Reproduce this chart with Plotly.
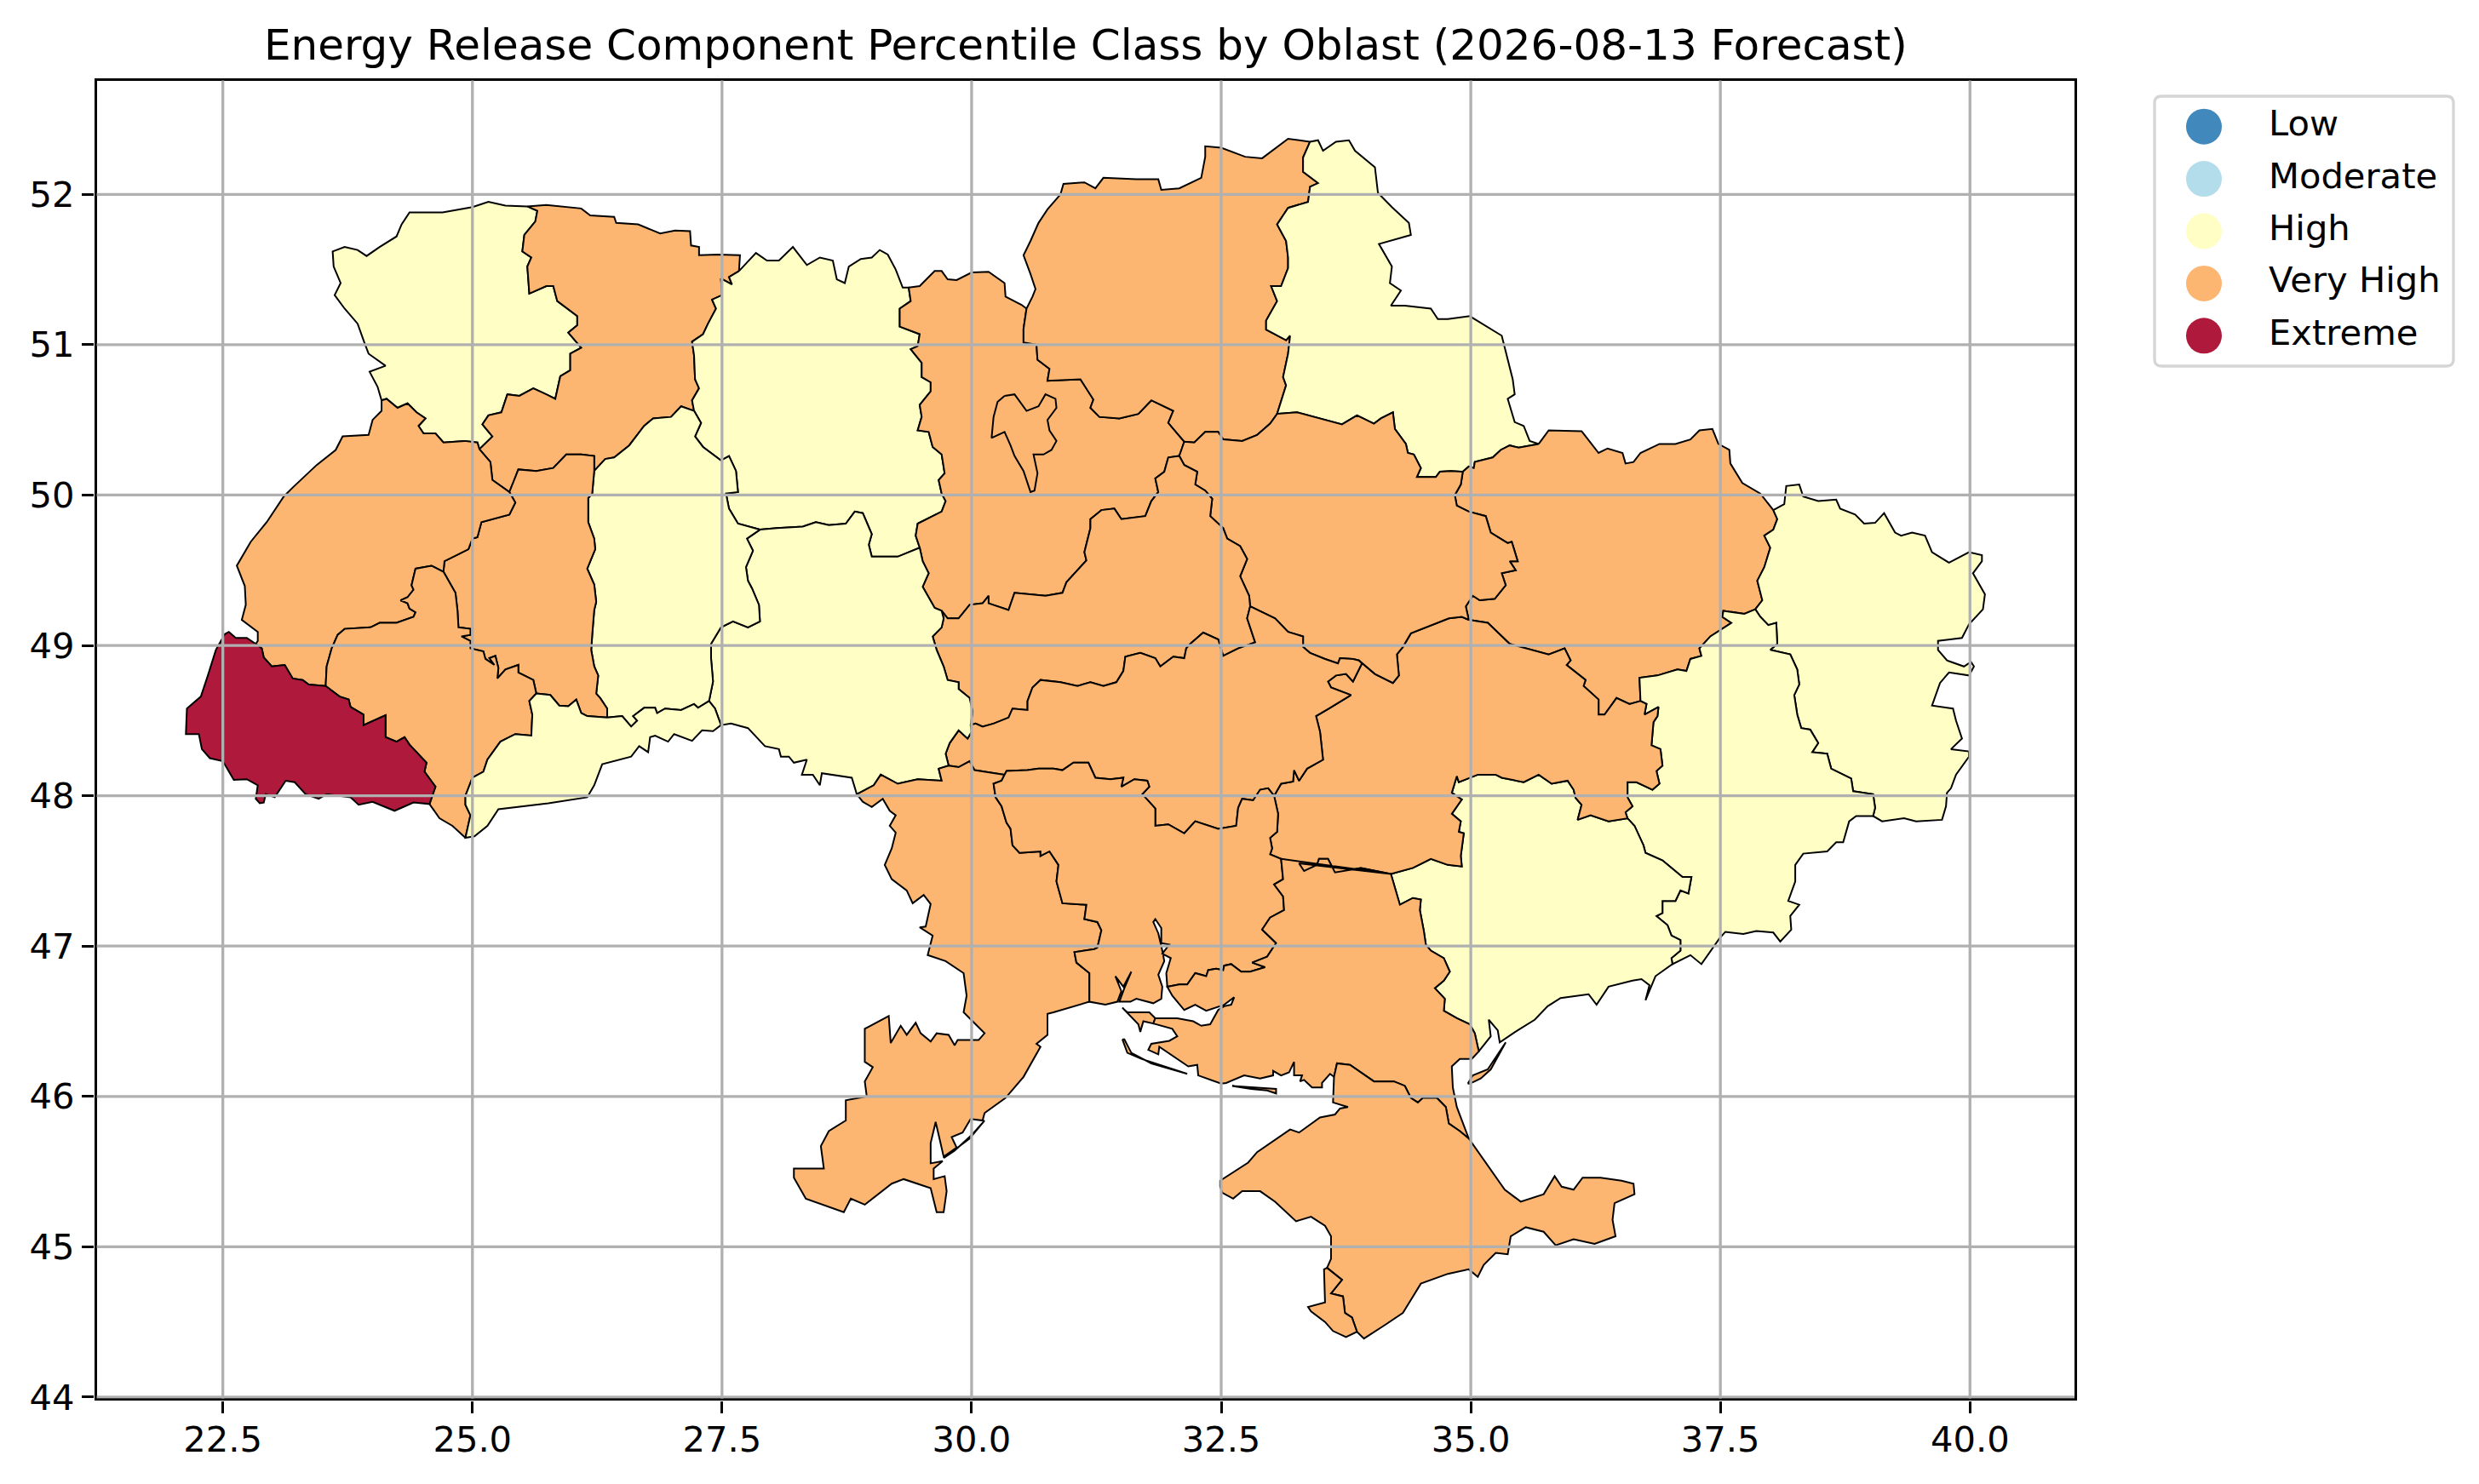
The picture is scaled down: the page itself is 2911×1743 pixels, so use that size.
import plotly.graph_objects as go

# ---------- chart text and classes ----------
TITLE = "Energy Release Component Percentile Class by Oblast (2026-08-13 Forecast)"
LEVELS = ["Low", "Moderate", "High", "Very High", "Extreme"]
LEVEL_COLORS = ["#4188bd", "#b3ddeb", "#ffffc5", "#fdb671", "#ae193c"]
XTICKS = [22.5, 25.0, 27.5, 30.0, 32.5, 35.0, 37.5, 40.0]
YTICKS = [44, 45, 46, 47, 48, 49, 50, 51, 52]

OBLASTS = ["Volyn", "Rivne", "Zhytomyr", "Kyiv", "Chernihiv", "Sumy", "Kharkiv", "Luhansk", "Donetsk",
           "Zaporizhzhia", "Dnipropetrovsk", "Poltava", "Cherkasy", "Kirovohrad", "Vinnytsia", "Khmelnytskyi",
           "Ternopil", "Lviv", "Ivano-Frankivsk", "Zakarpattia", "Chernivtsi", "Odesa", "Mykolaiv", "Kherson",
           "Crimea", "Sevastopol", "Kyiv City"]
OBLAST_CLASS = ["High", "Very High", "High", "Very High", "Very High", "High", "Very High", "High", "High",
                "High", "Very High", "Very High", "Very High", "Very High", "High", "High",
                "Very High", "Very High", "Very High", "Extreme", "High", "Very High", "Very High", "Very High",
                "Very High", "Very High", "Very High"]

# ---------- border junctions (lon, lat) ----------
A=(25.55,51.92); B=(24.09,50.63); C=(25.07,50.305); D=(27.67,51.49); E=(27.22,50.56); F=(26.22,50.16)
G=(25.37,50.02); H=(24.71,49.49); I=(29.37,51.38); J=(30.55,51.24); K=(33.39,52.35); L=(35.68,50.34)
M=(38.03,49.90); N=(37.85,49.24); O=(39.03,47.865); P=(36.70,48.63); Q=(34.98,49.17); R=(34.92,50.155)
S=(33.06,50.54); T=(32.13,50.355); U=(32.08,50.26); V=(32.79,49.26); X=(33.88,48.90); Y=(29.99,48.47)
Z=(29.70,49.23); AA=(29.48,49.65); BB=(27.88,49.77); DD=(29.77,48.20); EE=(30.33,48.14); FF=(28.85,48.01)
GG=(31.18,46.63); HH=(33.03,48.0); II=(36.57,47.85); KK=(22.83,49.01); LL=(23.53,48.73); MM=(25.64,48.68)
NN=(26.35,48.52); OO=(24.93,47.72); PP=(24.57,47.945); QQ=(27.49,48.47); RR=(27.37,48.63); J3=(34.20,47.48)
K3=(33.10,47.58); L3=(35.08,46.30); M3=(37.02,46.88); W=(31.96,46.73); CW=(33.63,46.13); CE=(34.98,45.72)
SA=(33.56,44.86); SB=(33.86,44.435)

# ---------- border arcs (lon, lat) ----------
volyn_outer=[A,(25.33,51.925),(25.16,51.95),(25.0,51.915),(24.70,51.88),(24.37,51.88),(24.29,51.80),(24.24,51.72),(24.07,51.65),(23.94,51.59),(23.85,51.63),(23.72,51.65),(23.60,51.62),(23.61,51.52),(23.68,51.41),(23.62,51.33),(23.72,51.24),(23.85,51.14),(23.92,51.01),(23.96,50.94),(24.13,50.86),(23.97,50.82),(24.05,50.72),B]
volyn_lviv=[B,(24.14,50.64),(24.25,50.58),(24.35,50.61),(24.44,50.55),(24.53,50.51),(24.46,50.46),(24.51,50.41),(24.63,50.41),(24.71,50.35),(24.92,50.36),(25.05,50.35),C]
volyn_rivne=[C,(25.20,50.39),(25.10,50.47),(25.16,50.53),(25.29,50.55),(25.35,50.67),(25.47,50.66),(25.61,50.71),(25.74,50.67),(25.83,50.64),(25.88,50.79),(25.98,50.83),(25.98,50.94),(26.09,50.98),(25.96,51.08),(26.05,51.13),(26.05,51.19),(25.85,51.29),(25.81,51.39),(25.74,51.39),(25.57,51.34),(25.55,51.52),(25.59,51.58),(25.50,51.62),(25.52,51.73),(25.63,51.82),(25.65,51.89),A]
rivne_north=[A,(25.74,51.93),(26.09,51.906),(26.18,51.86),(26.42,51.85),(26.44,51.81),(26.66,51.80),(26.88,51.74),(27.03,51.76),(27.18,51.755),(27.19,51.66),(27.27,51.65),(27.27,51.595),(27.46,51.60),(27.68,51.595),D]
rivne_zhyt=[D,(27.57,51.45),(27.60,51.40),(27.49,51.44),(27.50,51.33),(27.40,51.30),(27.44,51.24),(27.36,51.14),(27.31,51.07),(27.20,51.02),(27.22,50.93),(27.23,50.77),(27.27,50.71),(27.20,50.63),E]
rivne_khm=[E,(27.09,50.59),(26.99,50.52),(26.81,50.51),(26.72,50.46),(26.57,50.33),(26.42,50.25),(26.33,50.24),F]
rivne_tern=[F,(26.22,50.26),(26.09,50.27),(25.94,50.27),(25.81,50.18),(25.64,50.16),(25.46,50.17),(25.42,50.10),G]
rivne_lviv=[G,(25.20,50.10),(25.18,50.22),C]
lviv_tern=[G,(25.43,49.95),(25.37,49.87),(25.09,49.82),(25.05,49.72),(25.0,49.71),(24.96,49.64),(24.72,49.56),H]
lviv_west=[B,(24.09,50.56),(24.0,50.50),(23.96,50.40),(23.70,50.39),(23.63,50.30),(23.44,50.20),(23.20,50.05),(23.11,49.99),(22.94,49.82),(22.78,49.69),(22.64,49.53),(22.72,49.395),(22.73,49.27),(22.69,49.17),(22.85,49.09),(22.85,49.03),KK]
lviv_zak=[KK,(22.89,48.98),(22.91,48.92),(22.99,48.86),(23.12,48.87),(23.20,48.78),(23.30,48.77),(23.36,48.74),LL]
lviv_if=[H,(24.59,49.53),(24.43,49.51),(24.39,49.40),(24.41,49.37),(24.35,49.32),(24.28,49.30),(24.35,49.28),(24.37,49.245),(24.43,49.22),(24.41,49.19),(24.24,49.15),(24.07,49.15),(23.98,49.12),(23.72,49.11),(23.65,49.07),(23.59,48.98),(23.54,48.86),LL]
tern_if=[H,(24.83,49.35),(24.85,49.235),(24.86,49.12),(24.98,49.11),(24.98,49.07),(24.89,49.06),(24.98,49.03),(24.98,48.98),(25.11,48.96),(25.13,48.91),(25.22,48.87),(25.17,48.915),(25.23,48.93),(25.26,48.85),(25.25,48.78),(25.33,48.84),(25.46,48.87),(25.46,48.82),(25.61,48.77),MM]
tern_chern=[MM,(25.78,48.67),(25.87,48.60),(25.96,48.595),(26.04,48.64),(26.09,48.55),(26.15,48.53),NN]
tern_khm=[F,(26.20,50.01),(26.16,49.98),(26.16,49.82),(26.22,49.71),(26.23,49.64),(26.15,49.51),(26.22,49.405),(26.24,49.29),(26.22,49.235),(26.20,49.07),(26.19,48.97),(26.22,48.86),(26.26,48.80),(26.24,48.68),(26.28,48.65),(26.35,48.58),NN]
if_chern=[MM,(25.57,48.63),(25.60,48.54),(25.59,48.40),(25.43,48.41),(25.28,48.36),(25.15,48.24),(25.11,48.16),(25.0,48.12),(24.93,48.0),(24.93,47.94),(24.98,47.87),OO]
if_zak=[LL,(23.67,48.66),(23.76,48.64),(23.78,48.59),(23.91,48.54),(23.91,48.47),(24.13,48.535),(24.13,48.39),(24.24,48.36),(24.32,48.39),(24.37,48.34),(24.54,48.22),(24.52,48.16),(24.63,48.06),PP]
if_south=[PP,(24.67,47.85),(24.80,47.80),OO]
zak_outer=[PP,(24.41,47.955),(24.22,47.90),(24.0,47.96),(23.86,47.94),(23.78,47.99),(23.54,48.01),(23.46,47.98),(23.33,48.01),(23.22,48.09),(23.13,48.10),(23.02,47.99),(22.93,48.01),(22.91,47.955),(22.87,47.95),(22.83,47.98),(22.85,48.07),(22.74,48.11),(22.61,48.105),(22.5,48.23),(22.37,48.25),(22.29,48.31),(22.26,48.41),(22.13,48.41),(22.14,48.58),(22.28,48.66),(22.35,48.80),(22.43,48.97),(22.52,49.075),(22.56,49.09),(22.63,49.05),(22.74,49.05),KK]
chern_south=[OO,(25.02,47.73),(25.15,47.80),(25.26,47.91),(25.76,47.95),(26.15,47.99),(26.22,48.07),(26.30,48.21),(26.59,48.26),(26.67,48.33),(26.76,48.29),(26.78,48.39),(26.83,48.40),(26.96,48.36),(27.02,48.41),(27.20,48.365),(27.30,48.435),(27.41,48.43),QQ]
chern_khm=[NN,(26.50,48.53),(26.59,48.46),(26.65,48.50),(26.61,48.53),(26.72,48.585),(26.83,48.585),(26.85,48.55),(26.93,48.58),(27.09,48.57),(27.22,48.61),(27.26,48.585),RR]
chern_vin=[RR,(27.43,48.58),QQ]
khm_vin=[BB,(27.75,49.71),(27.81,49.63),(27.74,49.52),(27.76,49.43),(27.80,49.38),(27.87,49.27),(27.88,49.16),(27.76,49.12),(27.61,49.16),(27.49,49.12),(27.39,49.01),(27.39,48.915),(27.41,48.76),RR]
khm_zhyt=[E,(27.29,50.48),(27.23,50.39),(27.31,50.32),(27.49,50.23),(27.57,50.26),(27.64,50.16),(27.66,50.02),(27.54,50.01),(27.57,49.91),(27.66,49.81),BB]
vin_south=[QQ,(27.59,48.48),(27.76,48.45),(27.93,48.33),(28.07,48.31),(28.09,48.26),(28.17,48.26),(28.22,48.22),(28.35,48.24),(28.30,48.14),(28.41,48.14),(28.48,48.07),(28.50,48.15),(28.80,48.12),FF]
zhyt_north=[D,(27.84,51.61),(27.95,51.56),(28.07,51.56),(28.21,51.65),(28.29,51.58),(28.35,51.53),(28.48,51.58),(28.61,51.56),(28.65,51.435),(28.73,51.41),(28.77,51.52),(28.89,51.57),(29.0,51.58),(29.08,51.63),(29.16,51.60),(29.24,51.50),(29.31,51.38),I]
kyiv_north=[I,(29.48,51.39),(29.63,51.49),(29.70,51.49),(29.76,51.435),(29.85,51.43),(30.0,51.48),(30.17,51.485),(30.33,51.41),(30.34,51.32),(30.50,51.265),J]
chernihiv_north=[J,(30.61,51.32),(30.64,51.37),(30.59,51.47),(30.52,51.595),(30.59,51.69),(30.67,51.81),(30.76,51.90),(30.89,52.0),(30.92,52.07),(31.13,52.08),(31.24,52.04),(31.32,52.11),(31.65,52.10),(31.87,52.10),(31.90,52.03),(32.08,52.04),(32.30,52.11),(32.34,52.25),(32.34,52.32),(32.50,52.31),(32.74,52.25),(32.91,52.24),(33.17,52.37),K]
sumy_outer=[K,(33.47,52.36),(33.52,52.29),(33.65,52.35),(33.78,52.36),(33.84,52.29),(34.04,52.18),(34.07,52.01),(34.21,51.915),(34.38,51.81),(34.40,51.73),(34.08,51.67),(34.21,51.52),(34.19,51.41),(34.30,51.36),(34.20,51.26),(34.34,51.26),(34.60,51.24),(34.67,51.17),(34.77,51.17),(34.99,51.19),(35.31,51.06),(35.42,50.77),(35.44,50.67),(35.37,50.64),(35.44,50.485),(35.53,50.46),(35.59,50.36),L]
kharkiv_north=[L,(35.78,50.43),(36.11,50.425),(36.28,50.28),(36.37,50.31),(36.52,50.28),(36.55,50.21),(36.63,50.22),(36.70,50.28),(36.89,50.34),(37.05,50.34),(37.20,50.37),(37.29,50.43),(37.42,50.44),(37.48,50.34),(37.59,50.30),(37.60,50.21),(37.72,50.08),(37.90,50.01),M]
luhansk_outer=[M,(38.14,49.94),(38.16,50.06),(38.29,50.07),(38.33,49.99),(38.48,49.96),(38.66,49.97),(38.70,49.91),(38.85,49.87),(38.94,49.81),(39.05,49.815),(39.14,49.88),(39.25,49.75),(39.31,49.73),(39.42,49.75),(39.55,49.73),(39.62,49.62),(39.79,49.55),(39.99,49.62),(40.12,49.60),(40.12,49.56),(40.03,49.48),(40.15,49.34),(40.13,49.24),(39.99,49.14),(39.92,49.05),(39.68,49.03),(39.68,48.97),(39.77,48.90),(39.94,48.86),(40.01,48.89),(40.04,48.86),(39.99,48.80),(39.79,48.82),(39.70,48.75),(39.62,48.60),(39.83,48.58),(39.86,48.50),(39.92,48.38),(39.81,48.31),(39.99,48.295),(39.99,48.26),(39.86,48.14),(39.81,48.05),(39.77,48.02),(39.76,47.93),(39.72,47.84),(39.46,47.83),(39.34,47.85),(39.12,47.83),O]
kharkiv_luhansk=[M,(38.07,49.84),(38.03,49.77),(37.94,49.73),(38.0,49.65),(37.94,49.52),(37.87,49.43),(37.92,49.30),N]
luhansk_donetsk=[N,(37.90,49.19),(37.98,49.135),(38.06,49.15),(38.07,49.01),(38.0,48.97),(38.20,48.94),(38.27,48.84),(38.29,48.74),(38.24,48.67),(38.27,48.54),(38.31,48.45),(38.40,48.44),(38.48,48.35),(38.42,48.29),(38.57,48.28),(38.61,48.18),(38.81,48.115),(38.83,48.03),(39.03,48.01),(39.05,47.92),O]
kharkiv_donetsk=[N,(37.74,49.21),(37.53,49.23),(37.52,49.19),(37.61,49.15),(37.40,49.06),(37.33,49.01),(37.29,48.98),(37.31,48.93),(37.20,48.91),(37.16,48.83),(37.07,48.84),(36.87,48.80),(36.69,48.785),P]
sumy_chernihiv=[K,(33.32,52.245),(33.32,52.15),(33.47,52.075),(33.39,52.05),(33.37,51.95),(33.17,51.91),(33.06,51.80),(33.15,51.69),(33.17,51.58),(33.17,51.51),(33.10,51.39),(33.00,51.39),(33.06,51.29),(32.95,51.16),(32.95,51.10),(33.15,51.03),(33.19,51.06),(33.17,50.94),(33.12,50.785),(33.15,50.73),S]
sumy_poltava=[S,(33.26,50.55),(33.71,50.47),(33.86,50.53),(34.03,50.475),(34.10,50.51),(34.22,50.55),(34.24,50.44),(34.35,50.34),(34.37,50.28),(34.43,50.27),(34.50,50.18),(34.46,50.12),(34.65,50.12),(34.69,50.155),(34.80,50.16),R]
sumy_kharkiv=[R,(34.98,50.19),(35.03,50.18),(35.04,50.22),(35.22,50.25),(35.30,50.30),(35.39,50.33),(35.48,50.315),L]
poltava_kharkiv=[R,(34.90,50.07),(34.84,50.0),(34.86,49.93),(34.98,49.89),(35.15,49.86),(35.20,49.75),(35.37,49.68),(35.41,49.69),(35.47,49.56),(35.39,49.56),(35.45,49.50),(35.31,49.48),(35.35,49.40),(35.24,49.31),(35.09,49.30),(35.02,49.33),(34.95,49.26),Q]
chernihiv_poltava=[S,(32.99,50.475),(32.86,50.40),(32.71,50.36),(32.52,50.37),(32.47,50.42),(32.34,50.42),(32.23,50.35),T]
chernihiv_kyiv=[J,(30.52,51.105),(30.52,51.015),(30.65,51.0),(30.66,50.90),(30.78,50.84),(30.76,50.76),(31.09,50.77),(31.22,50.635),(31.19,50.58),(31.28,50.52),(31.48,50.51),(31.67,50.54),(31.80,50.63),(32.02,50.56),(31.97,50.48),(32.06,50.41),T]
kyiv_poltava=[T,U]
poltava_cherkasy=[U,(32.13,50.20),(32.26,50.155),(32.24,50.07),(32.34,50.03),(32.41,49.975),(32.39,49.86),(32.52,49.78),(32.56,49.71),(32.69,49.66),(32.76,49.575),(32.69,49.46),(32.78,49.33),V]
kyiv_cherkasy=[U,(31.97,50.25),(31.93,50.155),(31.84,50.11),(31.87,50.02),(31.80,49.96),(31.74,49.86),(31.60,49.85),(31.50,49.84),(31.43,49.91),(31.30,49.90),(31.19,49.84),(31.19,49.78),(31.13,49.62),(31.15,49.565),(30.95,49.42),(30.91,49.35),(30.74,49.33),(30.43,49.35),(30.37,49.235),(30.17,49.28),(30.17,49.33),(30.11,49.28),(29.98,49.27),(29.87,49.18),(29.76,49.18),Z]
kyiv_zhyt=[I,(29.39,51.29),(29.28,51.24),(29.28,51.12),(29.48,51.07),(29.46,50.99),(29.39,50.97),(29.50,50.88),(29.50,50.785),(29.59,50.75),(29.59,50.69),(29.48,50.60),(29.50,50.52),(29.46,50.43),(29.57,50.42),(29.61,50.32),(29.70,50.27),(29.73,50.145),(29.67,50.10),(29.70,50.01),(29.74,49.96),(29.70,49.89),(29.46,49.81),(29.44,49.73),AA]
zhyt_vin=[AA,(29.26,49.59),(29.0,49.59),(28.97,49.67),(29.0,49.74),(28.91,49.88),(28.83,49.89),(28.74,49.81),(28.57,49.80),(28.44,49.82),(28.31,49.79),(28.05,49.78),BB]
kyiv_vin=[AA,(29.51,49.56),(29.57,49.48),(29.51,49.39),(29.63,49.25),Z]
cherkasy_vin=[Z,(29.72,49.18),(29.70,49.12),(29.61,49.06),(29.65,48.97),(29.72,48.86),(29.76,48.77),(29.87,48.755),(29.87,48.71),(29.98,48.65),(30.01,48.56),Y]
cherkasy_kiro=[V,(32.76,49.18),(32.84,49.02),(32.67,48.98),(32.52,48.93),(32.47,49.04),(32.32,49.085),(32.19,49.01),(32.15,48.98),(32.13,48.915),(32.02,48.925),(31.89,48.86),(31.84,48.915),(31.69,48.95),(31.54,48.925),(31.52,48.83),(31.45,48.755),(31.32,48.73),(31.19,48.755),(31.06,48.73),(30.89,48.755),(30.69,48.77),(30.61,48.72),(30.56,48.63),(30.56,48.57),(30.41,48.58),(30.37,48.52),(30.22,48.48),(30.11,48.46),(30.04,48.48),Y]
poltava_kiro=[V,(33.04,49.18),(33.17,49.09),(33.32,49.06),(33.32,48.99),(33.39,48.95),(33.54,48.91),(33.67,48.88),(33.69,48.915),(33.82,48.91),X]
poltava_dnipro=[X,(34.04,48.81),(34.22,48.75),(34.28,48.80),(34.26,48.94),(34.32,48.99),(34.40,49.08),(34.61,49.135),(34.78,49.18),(34.91,49.19),Q]
kharkiv_dnipro=[Q,(35.17,49.15),(35.39,49.01),(35.78,48.94),(35.94,48.98),(36.0,48.90),(35.96,48.87),(36.15,48.77),(36.13,48.73),(36.28,48.64),(36.28,48.54),(36.34,48.54),(36.46,48.65),(36.59,48.61),P]
donetsk_dnipro=[P,(36.76,48.61),(36.74,48.54),(36.88,48.59),(36.87,48.53),(36.83,48.49),(36.81,48.335),(36.90,48.31),(36.92,48.20),(36.86,48.165),(36.89,48.08),(36.82,48.04),(36.66,48.09),(36.57,48.09),(36.57,47.99),(36.62,47.93),(36.55,47.89),II]
dnipro_zap=[II,(36.38,47.83),(36.20,47.87),(36.07,47.84),(36.11,47.94),(36.05,47.985),(36.03,48.04),(35.97,48.10),(35.81,48.08),(35.68,48.14),(35.53,48.09),(35.31,48.12),(35.25,48.14),(35.07,48.14),(34.88,48.09),(34.86,48.13),(34.81,48.02),(34.91,47.975),(34.81,47.88),(34.90,47.83),(34.88,47.76),(34.93,47.75),(34.90,47.60),(34.91,47.53),(34.77,47.54),(34.60,47.58),(34.42,47.52),J3]
dnipro_kherson=[J3,(33.90,47.52),(33.64,47.49),(33.57,47.58),(33.48,47.58),(33.46,47.54),(33.33,47.50),(33.28,47.55),K3]
dnipro_myk=[HH,(33.07,47.88),(33.06,47.76),(32.99,47.72),(33.01,47.65),(32.99,47.61),K3]
dnipro_kiro=[X,(33.91,48.88),(33.82,48.76),(33.75,48.81),(33.65,48.80),(33.57,48.76),(33.60,48.72),(33.80,48.67),(33.58,48.58),(33.45,48.53),(33.49,48.425),(33.52,48.24),(33.36,48.18),(33.28,48.10),(33.23,48.17),(33.22,48.095),(33.10,48.08),HH]
kiro_vin=[Y,(30.0,48.425),(29.96,48.38),(29.87,48.435),(29.78,48.35),(29.74,48.28),DD]
kiro_odesa=[DD,(29.87,48.19),(29.98,48.23),(30.03,48.17),EE]
kiro_myk=[EE,(30.35,48.165),(30.56,48.17),(30.67,48.18),(30.82,48.18),(30.91,48.17),(31.02,48.22),(31.17,48.22),(31.24,48.12),(31.39,48.11),(31.52,48.12),(31.50,48.06),(31.63,48.11),(31.76,48.10),(31.78,48.06),(31.71,48.01),(31.84,47.915),(31.84,47.80),(31.97,47.81),(32.13,47.75),(32.24,47.83),(32.47,47.78),(32.65,47.80),(32.67,47.92),(32.71,47.98),(32.82,47.97),(32.89,48.04),(32.97,48.05),HH]
vin_odesa=[DD,(29.67,48.18),(29.70,48.10),(29.46,48.11),(29.26,48.08),(29.09,48.14),(29.02,48.07),FF]
odesa_coast=[FF,(28.91,47.96),(29.0,47.925),(29.11,47.98),(29.18,47.90),(29.24,47.87),(29.18,47.80),(29.24,47.755),(29.20,47.65),(29.13,47.54),(29.20,47.445),(29.35,47.37),(29.41,47.285),(29.52,47.34),(29.59,47.28),(29.54,47.13),(29.48,47.125),(29.61,47.07),(29.56,46.94),(29.74,46.90),(29.92,46.82),(29.95,46.67),(29.92,46.56),(30.01,46.50),(30.13,46.42),(30.07,46.375),(29.86,46.375),(29.83,46.34),(29.77,46.41),(29.65,46.42),(29.59,46.365),(29.49,46.42),(29.44,46.49),(29.35,46.41),(29.29,46.47),(29.19,46.355),(29.17,46.535),(28.93,46.45),(28.93,46.23),(29.01,46.195),(28.93,46.10),(28.95,46.0),(28.74,45.975),(28.74,45.84),(28.57,45.77),(28.49,45.67),(28.52,45.52),(28.22,45.52),(28.22,45.46),(28.34,45.32),(28.72,45.23),(28.79,45.32),(28.93,45.28),(29.20,45.42),(29.32,45.45),(29.59,45.39),(29.65,45.23),(29.72,45.23),(29.75,45.37),(29.73,45.47),(29.62,45.45),(29.62,45.52),(29.71,45.57),(29.59,45.555),(29.59,45.69),(29.64,45.83),(29.67,45.74),(29.72,45.60),(29.85,45.66),(29.80,45.73),(29.91,45.76),(29.99,45.85),(30.11,45.84),(30.13,45.89),(30.34,45.99),(30.52,46.13),(30.69,46.33),(30.65,46.35),(30.76,46.41),(30.76,46.55),(30.82,46.56),GG]
odesa_myk=[GG,(31.18,46.82),(31.05,46.89),(31.03,46.96),(31.23,46.98),(31.26,46.99),(31.30,47.105),(31.26,47.16),(31.13,47.18),(31.15,47.275),(30.91,47.285),(30.85,47.43),(30.87,47.54),(30.78,47.63),(30.69,47.60),(30.69,47.63),(30.48,47.62),(30.41,47.67),(30.39,47.78),(30.35,47.82),(30.30,47.93),(30.24,47.99),(30.22,48.08),(30.30,48.10),EE]
myk_kherson=[K3,(33.12,47.445),(33.03,47.41),(33.12,47.33),(33.13,47.24),(32.99,47.19),(32.91,47.11),(33.05,47.02),(32.96,46.93),(32.81,46.89),(32.94,46.86),(32.79,46.83),(32.70,46.83),(32.60,46.88),(32.53,46.87),(32.52,46.84),(32.45,46.85),(32.37,46.84),(32.35,46.80),(32.24,46.82),(32.16,46.745),(32.08,46.745),W]
myk_coast=[W,(31.95,46.82),(31.995,46.92),(31.91,46.95),(31.98,47.01),(31.90,47.02),(31.90,47.12),(31.84,47.18),(31.82,47.16),(31.87,47.085),(31.91,46.97),(31.93,46.90),(31.87,46.81),(31.91,46.73),(31.90,46.65),(31.82,46.62),(31.65,46.65),(31.59,46.63),(31.48,46.63),(31.53,46.72),(31.60,46.83),(31.52,46.73),(31.44,46.80),(31.50,46.70),(31.46,46.63),(31.34,46.61),GG]
kherson_coast=[W,(32.01,46.67),(32.13,46.575),(32.24,46.61),(32.35,46.57),(32.45,46.59),(32.53,46.61),(32.63,46.66),(32.60,46.61),(32.53,46.60),(32.47,46.575),(32.39,46.48),(32.30,46.47),(32.22,46.50),(32.06,46.52),(31.84,46.52),(31.82,46.485),(32.01,46.45),(32.06,46.40),(31.98,46.37),(31.80,46.35),(31.77,46.31),(31.87,46.28),(31.88,46.33),(32.04,46.26),(32.17,46.20),(32.26,46.21),(32.27,46.14),(32.50,46.085),(32.55,46.09),(32.73,46.14),(32.89,46.12),(33.02,46.14),(33.02,46.17),(33.10,46.14),(33.18,46.16),(33.23,46.23),(33.23,46.14),(33.31,46.14),(33.29,46.10),(33.33,46.11),(33.41,46.06),(33.51,46.06),(33.51,46.09),(33.59,46.15),CW]
kherson_crimea=[CW,(33.66,46.22),(33.79,46.21),(34.03,46.10),(34.23,46.10),(34.34,46.07),(34.40,45.99),(34.47,45.96),(34.52,45.99),(34.66,45.99),(34.75,45.93),(34.78,45.82),(34.89,45.77),CE]
kherson_east=[CE,(34.86,45.93),(34.82,46.06),(34.81,46.20),(34.89,46.25),(35.01,46.25),L3]
zap_kherson=[J3,(34.29,47.275),(34.42,47.32),(34.50,47.31),(34.49,47.24),(34.53,47.10),(34.55,47.01),(34.60,46.97),(34.73,46.92),(34.79,46.83),(34.73,46.77),(34.64,46.72),(34.74,46.65),(34.73,46.57),(34.86,46.52),(34.99,46.48),(35.04,46.42),L3]
zap_coast=[L3,(35.20,46.40),(35.18,46.51),(35.27,46.44),(35.29,46.36),(35.47,46.44),(35.64,46.51),(35.77,46.60),(35.90,46.655),(36.18,46.68),(36.26,46.61),(36.38,46.73),(36.62,46.77),(36.71,46.78),(36.79,46.74),(36.75,46.64),(36.85,46.80),M3]
zap_donetsk=[II,(36.64,47.80),(36.73,47.67),(36.75,47.62),(36.92,47.57),(37.12,47.46),(37.21,47.46),(37.18,47.35),(37.10,47.37),(37.05,47.30),(36.92,47.30),(36.92,47.22),(36.86,47.20),(36.97,47.14),(37.01,47.07),(37.10,47.04),(37.10,46.97),(37.01,46.92),M3]
donetsk_coast=[M3,(37.20,46.94),(37.31,46.88),(37.49,47.05),(37.55,47.095),(37.73,47.08),(37.86,47.10),(38.03,47.09),(38.10,47.03),(38.21,47.11),(38.20,47.20),(38.29,47.275),(38.18,47.30),(38.25,47.43),(38.25,47.54),(38.33,47.615),(38.57,47.63),(38.66,47.69),(38.73,47.69),(38.79,47.83),(38.86,47.865),O]
crimea_west=[CW,(33.62,46.0),(33.62,45.96),(33.77,45.93),(33.69,45.92),(33.64,45.88),(33.49,45.86),(33.28,45.76),(33.19,45.78),(32.86,45.63),(32.77,45.56),(32.49,45.44),(32.49,45.40),(32.51,45.36),(32.62,45.32),(32.71,45.37),(32.89,45.37),(33.04,45.30),(33.25,45.17),(33.40,45.20),(33.54,45.14),(33.60,45.07),(33.60,44.92),SA]
crimea_sev=[SA,(33.71,44.78),(33.60,44.69),(33.72,44.67),(33.74,44.56),(33.81,44.53),SB]
sev_coast=[SA,(33.53,44.85),(33.54,44.63),(33.37,44.60),(33.40,44.57),(33.54,44.50),(33.62,44.44),(33.75,44.40),SB]
crimea_south=[SB,(33.93,44.39),(34.14,44.48),(34.32,44.56),(34.50,44.755),(34.77,44.82),(34.98,44.85),(35.07,44.80),(35.13,44.88),(35.25,44.96),(35.37,44.95),(35.40,45.07),(35.55,45.13),(35.73,45.10),(35.85,45.01),(36.03,45.05),(36.24,45.02),(36.45,45.07),(36.42,45.18),(36.44,45.29),(36.64,45.35),(36.63,45.42),(36.51,45.44),(36.30,45.46),(36.12,45.46),(36.03,45.38),(35.91,45.40),(35.84,45.47),(35.73,45.35),(35.50,45.30),(35.34,45.38),CE]
kyiv_city=[(30.33,50.66),(30.43,50.67),(30.55,50.56),(30.67,50.59),(30.74,50.67),(30.84,50.64),(30.85,50.58),(30.76,50.50),(30.78,50.43),(30.85,50.36),(30.80,50.30),(30.72,50.27),(30.62,50.27),(30.66,50.145),(30.63,50.03),(30.59,50.02),(30.52,50.16),(30.43,50.26),(30.39,50.33),(30.33,50.42),(30.20,50.38),(30.22,50.52),(30.26,50.62)]
# small separate land pieces
odesa_spit=[(29.72,45.59),(29.98,45.72),(30.13,45.84),(30.01,45.75),(29.83,45.64)]
kinburn_myk=[(31.51,46.59),(31.56,46.56),(31.78,46.56),(31.84,46.52),(31.82,46.485),(31.72,46.50),(31.69,46.43),(31.67,46.48)]
tendra=[(31.51,46.38),(31.53,46.38),(31.60,46.29),(31.80,46.22),(32.16,46.15),(31.91,46.205),(31.70,46.25),(31.56,46.29)]
dzharylhach=[(32.61,46.07),(32.86,46.06),(33.05,46.05),(33.05,46.02),(32.96,46.04),(32.80,46.05)]
fedotova=[(34.97,46.085),(35.02,46.14),(35.17,46.18),(35.35,46.36),(35.20,46.18),(35.10,46.12),(34.99,46.085)]

# ---------- oblast = closed chain of arcs; -1 = walk arc backwards ----------
CHAINS = {
 "Volyn":[[(volyn_outer,1),(volyn_lviv,1),(volyn_rivne,1)]],
 "Rivne":[[(rivne_north,1),(rivne_zhyt,1),(rivne_khm,1),(rivne_tern,1),(rivne_lviv,1),(volyn_rivne,1)]],
 "Zhytomyr":[[(zhyt_north,1),(kyiv_zhyt,1),(zhyt_vin,1),(khm_zhyt,-1),(rivne_zhyt,-1)]],
 "Kyiv":[[(kyiv_north,1),(chernihiv_kyiv,1),(kyiv_poltava,1),(kyiv_cherkasy,1),(kyiv_vin,-1),(kyiv_zhyt,-1)]],
 "Chernihiv":[[(chernihiv_north,1),(sumy_chernihiv,1),(chernihiv_poltava,1),(chernihiv_kyiv,-1)]],
 "Sumy":[[(sumy_outer,1),(sumy_kharkiv,-1),(sumy_poltava,-1),(sumy_chernihiv,-1)]],
 "Kharkiv":[[(kharkiv_north,1),(kharkiv_luhansk,1),(kharkiv_donetsk,1),(kharkiv_dnipro,-1),(poltava_kharkiv,-1),(sumy_kharkiv,1)]],
 "Luhansk":[[(luhansk_outer,1),(luhansk_donetsk,-1),(kharkiv_luhansk,-1)]],
 "Donetsk":[[(luhansk_donetsk,1),(donetsk_coast,-1),(zap_donetsk,-1),(donetsk_dnipro,-1),(kharkiv_donetsk,-1)]],
 "Zaporizhzhia":[[(zap_donetsk,1),(zap_coast,-1),(zap_kherson,-1),(dnipro_zap,-1)]],
 "Dnipropetrovsk":[[(poltava_dnipro,1),(kharkiv_dnipro,1),(donetsk_dnipro,1),(dnipro_zap,1),(dnipro_kherson,1),(dnipro_myk,-1),(dnipro_kiro,-1)]],
 "Poltava":[[(chernihiv_poltava,-1),(sumy_poltava,1),(poltava_kharkiv,1),(poltava_dnipro,-1),(poltava_kiro,-1),(poltava_cherkasy,-1),(kyiv_poltava,-1)]],
 "Cherkasy":[[(kyiv_cherkasy,1),(cherkasy_vin,1),(cherkasy_kiro,-1),(poltava_cherkasy,-1)]],
 "Kirovohrad":[[(poltava_kiro,1),(dnipro_kiro,1),(kiro_myk,-1),(kiro_odesa,-1),(kiro_vin,-1),(cherkasy_kiro,-1)]],
 "Vinnytsia":[[(zhyt_vin,-1),(kyiv_vin,1),(cherkasy_vin,1),(kiro_vin,1),(vin_odesa,1),(vin_south,-1),(chern_vin,-1),(khm_vin,-1)]],
 "Khmelnytskyi":[[(khm_zhyt,1),(khm_vin,1),(chern_khm,-1),(tern_khm,-1),(rivne_khm,-1)]],
 "Ternopil":[[(tern_khm,1),(tern_chern,-1),(tern_if,-1),(lviv_tern,-1),(rivne_tern,-1)]],
 "Lviv":[[(volyn_lviv,1),(rivne_lviv,-1),(lviv_tern,1),(lviv_if,1),(lviv_zak,-1),(lviv_west,-1)]],
 "Ivano-Frankivsk":[[(tern_if,1),(if_chern,1),(if_south,-1),(if_zak,-1),(lviv_if,-1)]],
 "Zakarpattia":[[(lviv_zak,1),(if_zak,1),(zak_outer,1)]],
 "Chernivtsi":[[(tern_chern,1),(chern_khm,1),(chern_vin,1),(chern_south,-1),(if_chern,-1)]],
 "Odesa":[[(vin_odesa,1),(odesa_coast,1),(odesa_myk,1),(kiro_odesa,-1)],[(odesa_spit,1)]],
 "Mykolaiv":[[(kiro_myk,1),(dnipro_myk,1),(myk_kherson,1),(myk_coast,1),(odesa_myk,1)],[(kinburn_myk,1)]],
 "Kherson":[[(myk_kherson,1),(kherson_coast,1),(kherson_crimea,1),(kherson_east,1),(zap_kherson,-1),(dnipro_kherson,-1)],[(tendra,1)],[(dzharylhach,1)],[(fedotova,1)]],
 "Crimea":[[(crimea_west,1),(crimea_sev,1),(crimea_south,1),(kherson_crimea,-1)]],
 "Sevastopol":[[(sev_coast,1),(crimea_sev,-1)]],
 "Kyiv City":[[(kyiv_city,1)]],
}

# ---------- page geometry in reference pixels ----------
W, H = 2911, 1743
AX_L, AX_R, AX_T, AX_B = 113.6, 2436, 94.6, 1642.4
FONT = "DejaVu Sans"
TICK_PX, TITLE_PX = 41.67, 50
LINE_PX, BORDER_PX = 3.3, 2.0
GRID = "#b0b0b0"
LEG_L, LEG_R, LEG_T, LEG_B = 2530, 2881, 113, 430
LEG_MARK, LEG_TEXT = 2588, 2664


def px(x):
    return x / W


def py(y):
    return 1 - y / H


def ring(chain):
    pts = []
    for arc, sign in chain:
        seq = arc if sign > 0 else arc[::-1]
        pts.extend(seq if not pts else seq[1:])
    return pts


color_of = dict(zip(LEVELS, LEVEL_COLORS))
fig = go.Figure()
for name, level in zip(OBLASTS, OBLAST_CLASS):
    xs, ys = [], []
    for chain in CHAINS[name]:
        pts = ring(chain)
        pts = pts + [pts[0]]
        xs += [p[0] for p in pts] + [None]
        ys += [p[1] for p in pts] + [None]
    fig.add_trace(go.Scatter(x=xs, y=ys, mode="lines", fill="toself", name=name,
                             fillcolor=color_of[level], line=dict(color="black", width=BORDER_PX),
                             showlegend=False, hoverinfo="name", xaxis="x", yaxis="y"))

# legend drawn on its own small axes
for level in LEVELS:
    fig.add_trace(go.Scatter(x=[(LEG_MARK - LEG_L) / (LEG_R - LEG_L)], y=[level], mode="markers",
                             marker=dict(size=42, color=color_of[level], line=dict(width=0)),
                             showlegend=False, hoverinfo="skip", xaxis="x2", yaxis="y2"))
    fig.add_trace(go.Scatter(x=[(LEG_TEXT - LEG_L) / (LEG_R - LEG_L)], y=[level], mode="text", text=[level],
                             textposition="middle right", textfont=dict(family=FONT, size=TICK_PX, color="black"),
                             showlegend=False, hoverinfo="skip", xaxis="x2", yaxis="y2"))

shapes = []
for v in XTICKS:
    shapes.append(dict(type="line", xref="x", yref="y domain", x0=v, x1=v, y0=0, y1=1, layer="above",
                       line=dict(color=GRID, width=LINE_PX)))
for v in YTICKS:
    shapes.append(dict(type="line", xref="x domain", yref="y", x0=0, x1=1, y0=v, y1=v, layer="above",
                       line=dict(color=GRID, width=LINE_PX)))
r = 8
L_, R_, T_, B_ = px(LEG_L), px(LEG_R), py(LEG_T), py(LEG_B)
rx, ry = r / W, r / H
shapes.append(dict(type="path", xref="paper", yref="paper", layer="below", fillcolor="white",
                   line=dict(color="#d5d5d5", width=LINE_PX),
                   path=f"M {L_+rx} {T_} L {R_-rx} {T_} Q {R_} {T_} {R_} {T_-ry} L {R_} {B_+ry} Q {R_} {B_} {R_-rx} {B_} "
                        f"L {L_+rx} {B_} Q {L_} {B_} {L_} {B_+ry} L {L_} {T_-ry} Q {L_} {T_} {L_+rx} {T_} Z"))

axis_style = dict(showgrid=False, zeroline=False, showline=True, mirror=True, linecolor="black", linewidth=LINE_PX,
                  ticks="outside", ticklen=14.6, tickwidth=LINE_PX, tickcolor="black", layer="above traces",
                  automargin=False, tickfont=dict(family=FONT, size=TICK_PX, color="black"))
fig.update_layout(
    width=W, height=H, autosize=False, margin=dict(l=0, r=0, t=0, b=0, autoexpand=False),
    paper_bgcolor="white", plot_bgcolor="white",
    showlegend=False, shapes=shapes,
    title=dict(text=TITLE, font=dict(family=FONT, size=TITLE_PX, color="black"), x=(AX_L + AX_R) / 2 / W, xanchor="center",
               xref="paper", yref="container", y=1 - 52 / H, yanchor="middle"),
    xaxis=dict(domain=[px(AX_L), px(AX_R)], range=[21.237, 41.047], tickmode="array", tickvals=XTICKS,
               ticktext=[f"{v:.1f}" for v in XTICKS], ticklabelstandoff=-5, **axis_style),
    yaxis=dict(domain=[py(AX_B), py(AX_T)], range=[43.992, 52.757], tickmode="array", tickvals=YTICKS,
               ticktext=[str(v) for v in YTICKS], **axis_style),
    xaxis2=dict(domain=[px(LEG_L), px(LEG_R)], range=[0, 1], visible=False, anchor="y2"),
    yaxis2=dict(domain=[py(LEG_B - 5), py(LEG_T + 5)], range=[-0.5, 4.5], type="category",
                categoryorder="array", categoryarray=LEVELS[::-1], visible=False, anchor="x2"),
)
fig.write_html("out.html", post_script="document.body.style.margin='0';", config={"displayModeBar": False})
